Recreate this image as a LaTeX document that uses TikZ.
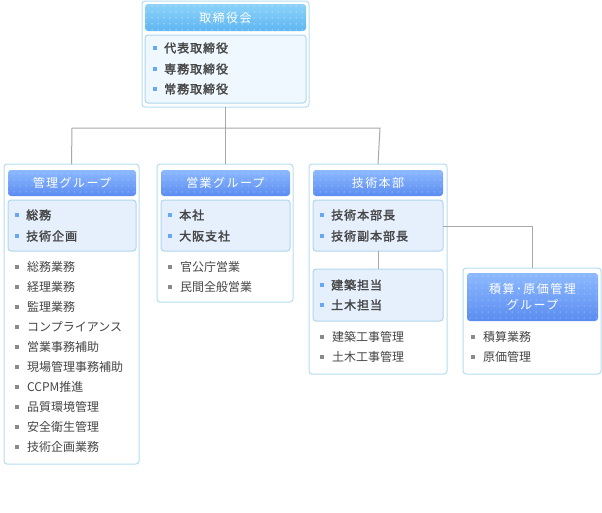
\documentclass[tikz,border=0pt]{standalone}
\usepackage{fontspec}
\setmainfont{Noto Sans CJK JP}[AutoFakeBold=2]
\usetikzlibrary{patterns.meta}
\definecolor{frameC}{HTML}{B4DDF0}
\definecolor{innerC}{HTML}{E6F0FD}
\definecolor{innerT}{HTML}{EEF8FE}
\definecolor{innerB}{HTML}{B0D6EE}
\definecolor{txt}{HTML}{454545}
\definecolor{bulB}{HTML}{66A8F4}
\definecolor{bulG}{HTML}{8A8A8A}
\definecolor{hTop}{HTML}{8DB9FF}
\definecolor{hBot}{HTML}{5A8CF0}
\definecolor{sTop}{HTML}{8CD2FA}
\definecolor{sBot}{HTML}{5EB6F2}
\definecolor{lineC}{HTML}{A8A8A8}
\tikzset{
  box/.style={draw=frameC, fill=white, line width=1pt, rounded corners=3pt, anchor=north west, inner sep=0pt, outer sep=0pt},
  inbox/.style={draw=innerB, fill=innerC, line width=1pt, rounded corners=3pt, anchor=north west, inner sep=0pt, outer sep=0pt},
  hdr/.style={rounded corners=3pt, top color=hTop, bottom color=hBot, anchor=north west, inner sep=0pt, outer sep=0pt,
    postaction={pattern={Dots[radius=0.5pt,distance=6pt,xshift=2pt,yshift=2pt]}, pattern color=white!60!hTop}},
  shdr/.style={hdr, top color=sTop, bottom color=sBot, postaction={pattern={Dots[radius=0.5pt,distance=6pt,xshift=2pt,yshift=2pt]}, pattern color=white!60!sTop}},
  htxt/.style={text=white, font=\fontsize{12}{16}\selectfont\addfontfeature{LetterSpace=12}, inner sep=0pt, align=center},
  bt/.style={anchor=west, inner sep=0pt, text=txt, font=\fontsize{12}{14}\selectfont\bfseries\addfontfeature{LetterSpace=8}},
  gt/.style={anchor=west, inner sep=0pt, text=txt, font=\fontsize{12}{14}\selectfont},
  conn/.style={draw=lineC, line width=1pt},
}
\newcommand\bitem[3]{\node[bt] (#1) at (#2) {#3};\fill[bulB] ([xshift=-9pt]#1.west) ++(-1.6,-1.6) rectangle ++(3.2,3.2);}
\newcommand\gitem[3]{\node[gt] (#1) at (#2) {#3};\fill[bulG] ([xshift=-10pt]#1.west) ++(-1.6,-1.6) rectangle ++(3.2,3.2);}
\begin{document}
\begin{tikzpicture}[x=1pt,y=-1pt]
\useasboundingbox (0,0) rectangle (602,512);
% connectors
\coordinate (jL) at (72,128);
\coordinate (jR) at (380,128);
% top box
\node[box, minimum width=167, minimum height=106] (top) at (142,1) {};
\node[shdr, minimum width=161, minimum height=27] (topH) at (145,4) {};
\node[htxt] at (topH.center) {取締役会};
\node[inbox, fill=innerT, minimum width=161, minimum height=68] (topI) at (145,35) {};
\bitem{t1}{164,48}{代表取締役}
\bitem{t2}{164,69}{専務取締役}
\bitem{t3}{164,89}{常務取締役}
% group boxes
\node[box, minimum width=135, minimum height=300] (g1) at (4,164) {};
\node[box, minimum width=136, minimum height=138] (g2) at (157,164) {};
\node[box, minimum width=138, minimum height=210] (g3) at (309,164) {};
\node[box, minimum width=138, minimum height=106] (g4) at (463,268) {};
\draw[conn] (top.south) -- (top.south |- jL);
\draw[conn] (g1.north) -- (jL) -- (jR) -- (g3.north);
\draw[conn] (g2.north) -- (g2.north |- jL);
% group 1
\node[hdr, minimum width=128, minimum height=26] (g1H) at (8,170) {};
\node[htxt] at (g1H.center) {管理グループ};
\node[inbox, minimum width=128, minimum height=51] (g1I) at (8,200) {};
\bitem{a1}{26,215}{総務}
\bitem{a2}{26,236}{技術企画}
\gitem{b1}{27,267}{総務業務}
\gitem{b2}{27,287}{経理業務}
\gitem{b3}{27,307}{監理業務}
\gitem{b4}{27,327}{コンプライアンス}
\gitem{b5}{27,347}{営業事務補助}
\gitem{b6}{27,367}{現場管理事務補助}
\gitem{b7}{27,387}{CCPM推進}
\gitem{b8}{27,407}{品質環境管理}
\gitem{b9}{27,427}{安全衛生管理}
\gitem{b10}{27,447}{技術企画業務}
% group 2
\node[hdr, minimum width=129, minimum height=26] (g2H) at (161,170) {};
\node[htxt] at (g2H.center) {営業グループ};
\node[inbox, minimum width=129, minimum height=51] (g2I) at (161,200) {};
\bitem{c1}{179,215}{本社}
\bitem{c2}{179,236}{大阪支社}
\gitem{d1}{180,267}{官公庁営業}
\gitem{d2}{180,287}{民間全般営業}
% group 3
\node[hdr, minimum width=130, minimum height=26] (g3H) at (313,170) {};
\node[htxt] at (g3H.center) {技術本部};
\node[inbox, minimum width=130, minimum height=51] (g3I) at (313,200) {};
\bitem{e1}{331,215}{技術本部長}
\bitem{e2}{331,236}{技術副本部長}
\node[inbox, minimum width=130, minimum height=52] (g3J) at (313,269) {};
\bitem{e3}{331,285}{建築担当}
\bitem{e4}{331,305}{土木担当}
\gitem{f1}{332,337}{建築工事管理}
\gitem{f2}{332,357}{土木工事管理}
\draw[conn] (g3I.south) -- (g3J.north);
\draw[conn] (g3I.east |- 0,226) -- (532,226) -- (g4.north);
% group 4
\node[hdr, minimum width=131, minimum height=48] (g4H) at (467,273) {};
\node[htxt] at (g4H.center) {積算･原価管理\\グループ};
\gitem{h1}{483,337}{積算業務}
\gitem{h2}{483,357}{原価管理}
\end{tikzpicture}
\end{document}
